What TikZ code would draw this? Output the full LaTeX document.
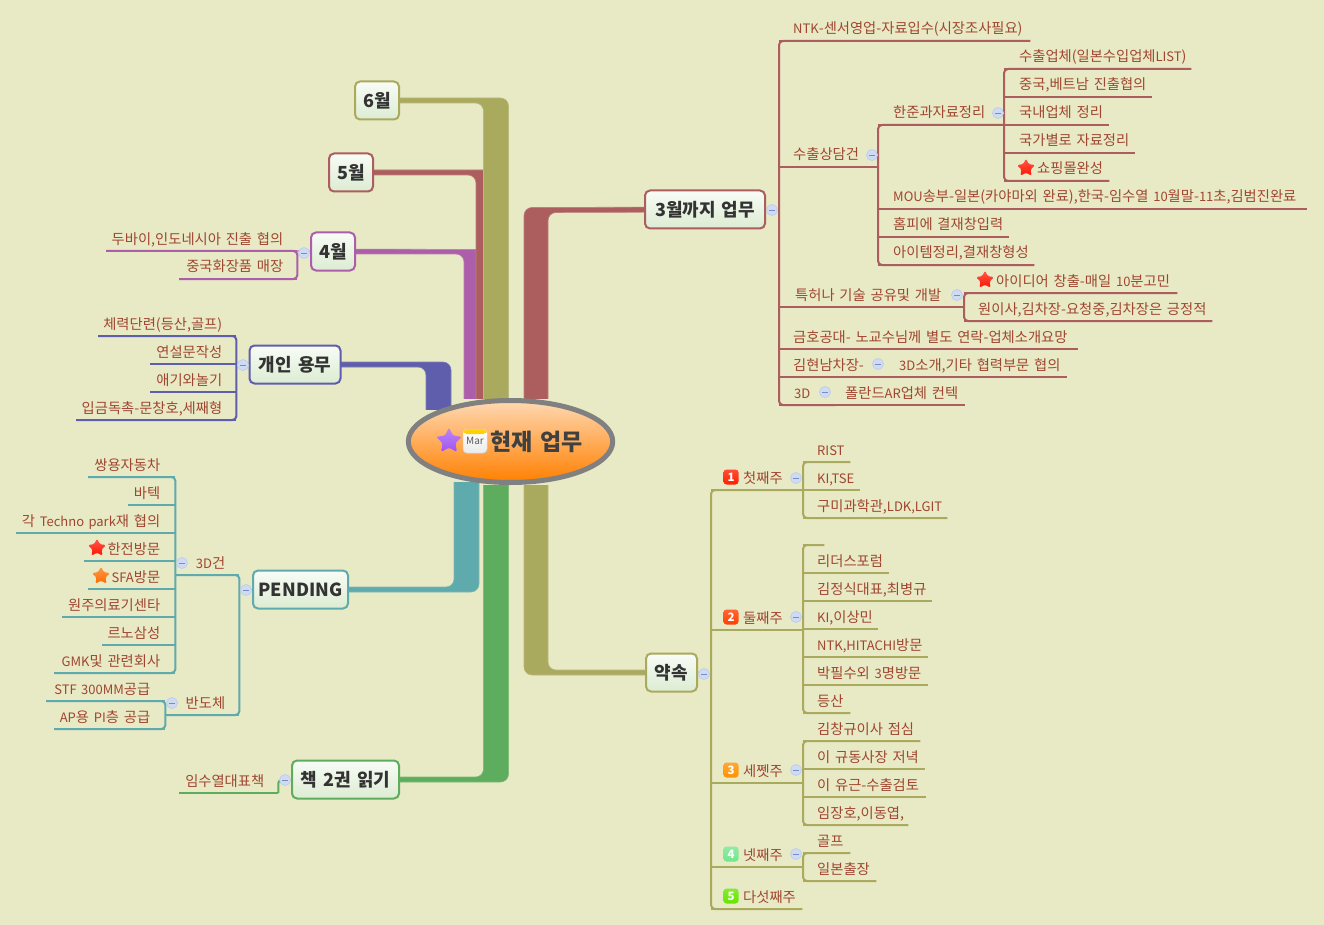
\documentclass[tikz,border=0pt]{standalone}
\usepackage{fontspec}
\setmainfont{Noto Sans CJK KR}[WordSpace=1.5]
\usetikzlibrary{shapes.geometric,backgrounds}

\definecolor{bgc}{RGB}{232,233,197}
\definecolor{redc}{RGB}{172,94,94}
\definecolor{olc}{RGB}{170,170,94}
\definecolor{puc}{RGB}{172,94,170}
\definecolor{blc}{RGB}{94,94,172}
\definecolor{tec}{RGB}{94,170,172}
\definecolor{grc}{RGB}{94,172,94}
\definecolor{leafc}{RGB}{160,70,48}
\definecolor{topc}{RGB}{248,252,246}
\definecolor{botc}{RGB}{220,236,210}
\definecolor{foldc}{RGB}{206,219,242}
\definecolor{foldb}{RGB}{186,206,242}
\definecolor{foldm}{RGB}{120,140,190}
\definecolor{vioc}{RGB}{160,84,240}

\newcommand{\lat}[1]{{\fontsize{13}{16}\selectfont #1}}

\tikzset{
  topic/.style={draw=#1,line width=2,rounded corners=5,top color=topc,
    bottom color=botc,inner sep=0,minimum height=38,text=black!80,
    font=\fontsize{18}{20}\selectfont\bfseries},
  leaf/.style={inner sep=0,text height=18,text depth=6.8,anchor=south west,text=leafc,
    font=\fontsize{14.3}{16}\selectfont},
  bline/.style={draw=#1,line width=2},
  trunk/.style={fill=#1,draw=#1!75!bgc,line width=0.6,rounded corners=8},
  fold/.style={circle,draw=foldb,fill=foldc,line width=0.7,
    minimum size=11,inner sep=0,
    path picture={\draw[foldm,line width=0.9]
      ([xshift=-2.8]path picture bounding box.center) -- ([xshift=2.8]path picture bounding box.center);}},
  redstar/.style={star,star points=5,star point ratio=2,minimum size=19,inner sep=0,
    rounded corners=1.5,top color=#1!70!white,bottom color=#1},
  numbox/.style={rounded corners=3,minimum size=15,inner sep=0,top color=#1!80!white,
    bottom color=#1,text=white,font=\fontsize{11.5}{12}\selectfont\bfseries},
}

\begin{document}
\begin{tikzpicture}[x=1pt,y=-1pt]
  \useasboundingbox (0,0) rectangle (1324,925);

  \def\rightleaves#1#2{
    \foreach \nm/\xa/\xb/\yl/\pd/\txt in {#2} {
      \pgfmathsetmacro{\w}{\xb-\xa}
      \node[leaf] (\nm) at (\xa,\yl) {\hbox to \w pt{\hskip\pd pt\txt\hss}};
      \draw[bline=#1] (\nm.south west) -- (\nm.south east);
    }
  }
  \def\leftleaves#1#2{
    \foreach \nm/\xa/\xb/\yl/\pd/\txt in {#2} {
      \pgfmathsetmacro{\w}{\xb-\xa}
      \node[leaf] (\nm) at (\xa,\yl) {\hbox to \w pt{\hss\txt\hskip\pd pt}};
      \draw[bline=#1] (\nm.south west) -- (\nm.south east);
    }
  }
  \def\rspine#1#2#3{\draw[bline=#1,rounded corners=4] (#2.south east) -- (#2.south west) -- (#3.south west) -- (#3.south east);}
  \def\lspine#1#2#3{\draw[bline=#1,rounded corners=4] (#2.south west) -- (#2.south east) -- (#3.south east) -- (#3.south west);}

  % topics
  \node[topic=olc,minimum width=44] (jun) at (377,100.5) {6월};
  \node[topic=redc,minimum width=44] (may) at (351,172.5) {5월};
  \node[topic=puc,minimum width=44] (apr) at (333,251.5) {4월};
  \node[topic=blc,minimum width=91] (own) at (295,364.5) {개인 용무};
  \node[topic=tec,minimum width=95] (pend) at (300.5,589.5) {PENDING};
  \node[topic=grc,minimum width=107] (book) at (345.5,779.5) {책 2권 읽기};
  \node[topic=redc,minimum width=120] (mar) at (705,209.5) {3월까지 업무};
  \node[topic=olc,minimum width=51] (prom) at (671.5,672.5) {약속};
  \node[ellipse,draw=black!50,line width=5,minimum width=203,minimum height=82,
    top color=orange!30!white,bottom color=orange,inner sep=0,text=black!75,
    font=\fontsize{23}{25}\selectfont\bfseries] (root) at (510.5,441.5) {\hspace*{52pt}현재 업무};

  % thick branches
  \begin{scope}[on background layer]
    \fill[bgc] (0,0) rectangle (1324,925);
    \begin{scope}
      \clip (0,0) rectangle (1324,398);
      \filldraw[trunk=puc] ([yshift=2.5]apr.center) -- (489,249.5) -- (489,420) -- (464,420) -- (464,254) -- ([yshift=-2.5]apr.center) -- cycle;
      \filldraw[trunk=redc] ([yshift=2.5]may.center) -- (501,170) -- (501,420) -- (476,420) -- (476,175) -- ([yshift=-2.5]may.center) -- cycle;
      \filldraw[trunk=olc] ([yshift=2.5]jun.center) -- (508.5,98) -- (508.5,420) -- (483.5,420) -- (483.5,103) -- ([yshift=-2.5]jun.center) -- cycle;
      \filldraw[trunk=redc] ([yshift=2.5]mar.center) -- (524,207.5) -- (524,420) -- (548,420) -- (548,212.5) -- ([yshift=-2.5]mar.center) -- cycle;
    \end{scope}
    \begin{scope}
      \clip (0,0) rectangle (1324,409);
      \filldraw[trunk=blc] ([yshift=2.5]own.center) -- (451,362) -- (451,430) -- (426,430) -- (426,367) -- ([yshift=-2.5]own.center) -- cycle;
    \end{scope}
    \begin{scope}
      \clip (0,482) rectangle (1324,925);
      \filldraw[trunk=tec] ([yshift=2.5]pend.center) -- (454,587) -- (454,460) -- (479,460) -- (479,592) -- ([yshift=-2.5]pend.center) -- cycle;
    \end{scope}
    \begin{scope}
      \clip (0,485.5) rectangle (1324,925);
      \filldraw[trunk=grc] ([yshift=2.5]book.center) -- (483.5,777) -- (483.5,460) -- (508.5,460) -- (508.5,782) -- ([yshift=-2.5]book.center) -- cycle;
      \filldraw[trunk=olc] ([yshift=-2.5]prom.center) -- (524,675) -- (524,460) -- (548,460) -- (548,670) -- ([yshift=2.5]prom.center) -- cycle;
    \end{scope}
  \end{scope}

  % 3월까지 업무
  \rightleaves{redc}{
    r1/779/1030/41/14/{\lat{NTK}-센서영업-자료입수(시장조사필요)},
    r2/779/878/167/14/{수출상담건},
    r21/878/1004/125/15/{한준과자료정리},
    r211/1004/1191/69/15/{수출업체(일본수입업체\lat{LIST})},
    r212/1004/1152/97/15/{중국,베트남 진출협의},
    r213/1004/1109/125/15/{국내업체 정리},
    r214/1004/1135/153/15/{국가별로 자료정리},
    r215/1004/1109/181/33/{쇼핑몰완성},
    r22/878/1307/209/15/{\lat{MOU}송부-일본(카야마외 완료),한국-임수열 \lat{10}월말-\lat{11}초,김범진완료},
    r23/878/1009/237/15/{홈피에 결재창입력},
    r24/878/1034/265/15/{아이템정리,결재창형성},
    r3/779/964/307/16/{특허나 기술 공유및 개발},
    r31/964/1177/293/32/{아이디어 창출-매일 \lat{10}분고민},
    r32/964/1212/321/14/{원이사,김차장-요청중,김차장은 긍정적},
    r4/779/1078/349/14/{금호공대- 노교수님께 별도 연락-업체소개요망},
    r5/779/880/377/14/{김현남차장-},
    r51/880/1067/377/19/{\lat{3D}소개,기타 협력부문 협의},
    r6/779/835/405/15/{\lat{3D}},
    r61/835/965/405/10/{폴란드\lat{AR}업체 컨텍}}
  \rspine{redc}{r1}{r6}
  \rspine{redc}{r21}{r24}
  \rspine{redc}{r211}{r215}
  \rspine{redc}{r31}{r32}

  % 약속
  \rightleaves{olc}{
    o1/711/803/490/32/{첫째주},
    o11/803/850/462/14/{\lat{RIST}},
    o12/803/860/490/14/{\lat{KI,TSE}},
    o13/803/947/518/14/{구미과학관,\lat{LDK,LGIT}},
    o2/711/803/630/32/{둘째주},
    o20/803/824/545/14/{},
    o21/803/889/573/14/{리더스포럼},
    o22/803/932/601/14/{김정식대표,최병규},
    o23/803/878/629/14/{\lat{KI},이상민},
    o24/803/928/657/14/{\lat{NTK,HITACHI}방문},
    o25/803/928/685/14/{박필수외 \lat{3}명방문},
    o26/803/850/713/14/{등산},
    o3/711/803/783/32/{세쩻주},
    o31/803/920/741/14/{김창규이사 점심},
    o32/803/925/769/14/{이 규동사장 저녁},
    o33/803/926/797/14/{이 유근-수출검토},
    o34/803/908/825/14/{임장호,이동엽,},
    o4/711/803/867/32/{넷째주},
    o41/803/850/853/14/{골프},
    o42/803/876/881/14/{일본출장},
    o5/711/802/909/32/{다섯째주}}
  \rspine{olc}{o1}{o5}
  \rspine{olc}{o11}{o13}
  \rspine{olc}{o20}{o26}
  \rspine{olc}{o31}{o34}
  \rspine{olc}{o41}{o42}

  % 4월, 개인 용무
  \leftleaves{puc}{
    p1/106/297/251/14/{두바이,인도네시아 진출 협의},
    p2/179/297/279/14/{중국화장품 매장}}
  \lspine{puc}{p1}{p2}
  \leftleaves{blc}{
    b1/98/236/336/14/{체력단련(등산,골프)},
    b2/150/236/364/14/{연설문작성},
    b3/150/236/392/14/{애기와놀기},
    b4/76/236/420/14/{입금독촉-문창호,세째형}}
  \lspine{blc}{b1}{b4}

  % PENDING
  \leftleaves{tec}{
    t1/175/239/575/14/{\lat{3D}건},
    t11/88/175/477/15/{쌍용자동차},
    t12/128/175/505/15/{바텍},
    t13/16/175/533/15/{각 \lat{Techno park}재 협의},
    t14/84/175/561/15/{한전방문},
    t15/88/175/589/15/{\lat{SFA}방문},
    t16/62/175/617/15/{원주의료기센타},
    t17/102/175/645/15/{르노삼성},
    t18/54/175/673/15/{\lat{GMK}및 관련회사},
    t2/165/239/715/14/{반도체},
    t21/46/165/701/15/{\lat{STF 300MM}공급},
    t22/54/165/729/15/{\lat{AP}용 \lat{PI}층 공급}}
  \lspine{tec}{t1}{t2}
  \lspine{tec}{t11}{t18}
  \lspine{tec}{t21}{t22}

  % 책 2권 읽기
  \leftleaves{grc}{g1/179/278/793/14/{임수열대표책}}

  % fold buttons
  \foreach \nm/\x/\y in {fmar/772/210,fr2/872/155,fr21/998/113,fr3/957/295,fr5/878/364,fr6/825/392,
    fprom/704/674,fo1/796/478,fo2/796/617,fo3/796/770,fo4/796/854,
    fapr/304/253,fown/243/365,fpend/246/590,ft1/182/563,ft2/172/703,fbook/285/780}
    \node[fold] (\nm) at (\x,\y) {};

  \begin{scope}[on background layer]
    \draw[bline=redc] (mar.east) -- (fmar) -- (fmar -| r1.south west);
    \draw[bline=olc] (prom.east) -- (fprom) -- (fprom -| o1.south west);
    \draw[bline=puc] (apr.west) -- (fapr) -- (p1.south east);
    \draw[bline=blc] (own.west) -- (fown) -- (fown -| b1.south east);
    \draw[bline=tec] (pend.west) -- (fpend) -- (fpend -| t1.south east);
    \draw[bline=grc] (book.west) -- (fbook);
    \draw[bline=grc,rounded corners=3] (g1.south east) |- (fbook);
  \end{scope}

  % icons
  \node[redstar=red!85!orange] (s1) at (1026,168) {};
  \node[redstar=red!85!orange] (s2) at (985,280) {};
  \node[redstar=red!85!orange] (s3) at (97,548) {};
  \node[redstar=orange!85!red] (s4) at (101,576) {};
  \node[redstar=vioc,minimum size=27] (s5) at (449,441) {};
  \node[rounded corners=4,minimum size=24,inner sep=0,top color=white,bottom color=black!8,
    draw=black!15,line width=0.5,text=black!65,font=\fontsize{10}{12}\selectfont,
    path picture={\fill[yellow!70!orange] (path picture bounding box.north west) rectangle ([yshift=-5]path picture bounding box.north east);}] (cal) at (475,441) {Mar};
  \foreach \nm/\y/\i/\c in {n1/477/1/red!75!orange,n2/617/2/orange!50!red,n3/770/3/orange!85!yellow,n4/854/4/teal!35!green!55!white,n5/896/5/lime!60!green!90!black}
    \node[numbox=\c] (\nm) at (731,\y) {\i};
\end{tikzpicture}
\end{document}
